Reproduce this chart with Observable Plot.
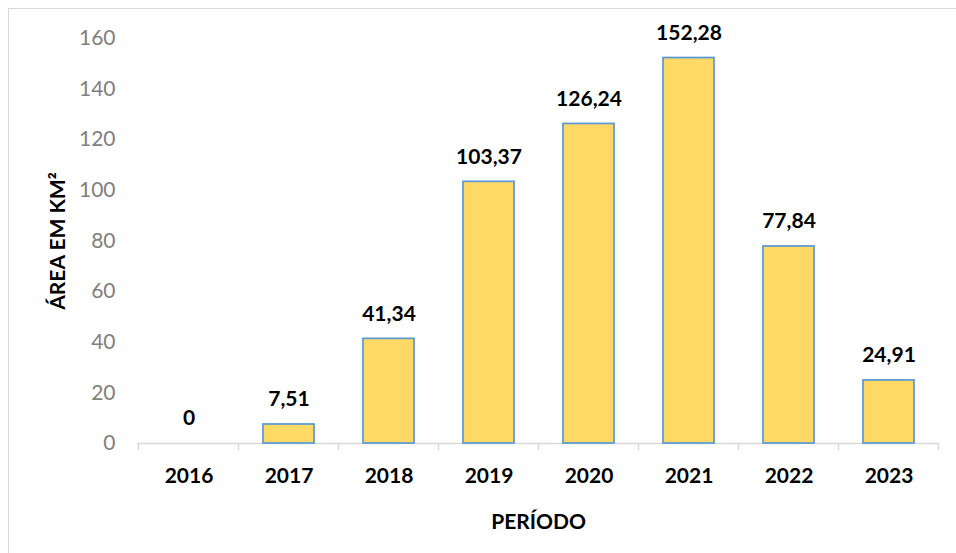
<!DOCTYPE html>
<html>
<head>
<meta charset="utf-8">
<script src="https://cdn.jsdelivr.net/npm/d3@7"></script>
<script src="https://cdn.jsdelivr.net/npm/@observablehq/plot@0.6"></script>
<style>
  html, body { margin: 0; padding: 0; background: #fff; }
  #wrap { position: relative; width: 956px; height: 553px; overflow: hidden; }
  #border { position: absolute; left: 8px; top: 8px; right: -10px; bottom: -10px;
            border-top: 1.5px solid #d9d9d9; border-left: 1.5px solid #d9d9d9; pointer-events: none; }
  #chart svg { display: block; }
  g[aria-label="y-axis label"] { font-weight: bold; fill: #000; }
</style>
</head>
<body>
<div id="wrap"><div id="border"></div><div id="chart"></div></div>
<script>
const years = ["2016", "2017", "2018", "2019", "2020", "2021", "2022", "2023"];
const areas = [0, 7.51, 41.34, 103.37, 126.24, 152.28, 77.84, 24.91];
const yTicks = [0, 20, 40, 60, 80, 100, 120, 140, 160];
const yTitle = "ÁREA EM KM²";
const xTitle = "PERÍODO";

const data = years.map((y, i) => ({year: y, area: areas[i]}));
const fmt = v => String(v).replace(".", ",");

const chart = Plot.plot({
  width: 956,
  height: 553,
  marginLeft: 137,
  marginRight: 17,
  marginTop: 38,
  marginBottom: 110,
  style: {fontFamily: "Lato, 'Open Sans', sans-serif", fontSize: "21px", background: "transparent", overflow: "visible"},
  x: {domain: years, paddingInner: 0.49, paddingOuter: 0.245},
  y: {domain: [0, 160]},
  marks: [
    Plot.ruleY([0], {stroke: "#d9d9d9", strokeWidth: 1.5}),
    Plot.barY(data, {x: "year", y: "area", fill: "#FFD966", stroke: "#5B9BD5", strokeWidth: 1.75}),
    Plot.text(data, {x: "year", y: "area", text: d => fmt(d.area), dy: -25, fontWeight: "bold", fill: "#000", fontSize: 21}),
    Plot.axisY({ticks: yTicks, tickSize: 0, tickPadding: 22, fill: "#7f7f7f", tickFormat: d => String(d),
                label: yTitle, labelAnchor: "center", labelOffset: 87, labelArrow: "none"}),
    Plot.axisX({tickSize: 0, tickPadding: 25, fontWeight: "bold", fill: "#000",
                label: xTitle, labelAnchor: "center", labelOffset: 85, labelArrow: "none"})
  ]
});
document.getElementById("chart").appendChild(chart);

// band boundary tick marks below the baseline, from Plot's own x/y scales
const xs = chart.scale("x");
const ys = chart.scale("y");
const y0 = ys.apply(0);
const bounds = [xs.apply(years[0]) + xs.bandwidth / 2 - xs.step / 2]
  .concat(years.map(y => xs.apply(y) + xs.bandwidth / 2 + xs.step / 2));
d3.select(chart).append("g")
  .selectAll("line").data(bounds).join("line")
  .attr("x1", d => d).attr("x2", d => d)
  .attr("y1", y0).attr("y2", y0 + 7)
  .attr("stroke", "#d9d9d9").attr("stroke-width", 1.5);
</script>
</body>
</html>
